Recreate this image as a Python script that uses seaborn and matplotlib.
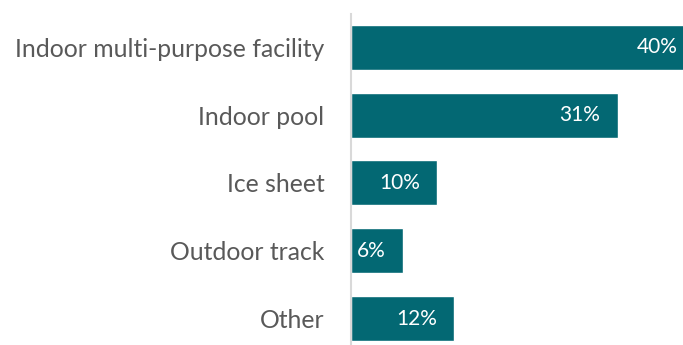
import matplotlib
matplotlib.use("Agg")
import matplotlib.pyplot as plt
import seaborn as sns
import pandas as pd

categories = ["Indoor multi-purpose facility", "Indoor pool", "Ice sheet", "Outdoor track", "Other"]
shares = [40, 31, 10, 6, 12]
value_labels = ["40%", "31%", "10%", "6%", "12%"]

sns.set_theme(style="white")
plt.rcParams["font.family"] = ["Lato", "DejaVu Sans"]

df = pd.DataFrame({"facility": categories, "share": shares})

fig = plt.figure(figsize=(6.83, 3.45), dpi=100)
ax = fig.add_axes([351 / 683, 0.0, 1 - 351 / 683, 331 / 345])

sns.barplot(data=df, x="share", y="facility", orient="h", color="#036873",
            saturation=1, width=0.665, ax=ax)

ax.set_xlim(0, 38.6)
ax.set_ylim(4.39, -0.49)

for i, (v, lab) in enumerate(zip(shares, value_labels)):
    ax.annotate(lab, xy=(v, i), xytext=(-12.5, 0), textcoords="offset points",
                ha="right", va="center", color="white", fontsize=15,
                annotation_clip=False)

ax.set_xlabel("")
ax.set_ylabel("")
ax.set_xticks([])
ax.tick_params(axis="y", length=0, pad=19, labelsize=17.8, labelcolor="#595959")
for side in ["top", "right", "bottom"]:
    ax.spines[side].set_visible(False)
ax.spines["left"].set_color("#d9d9d9")
ax.spines["left"].set_linewidth(1.5)

fig.savefig("out.png", dpi=100)
